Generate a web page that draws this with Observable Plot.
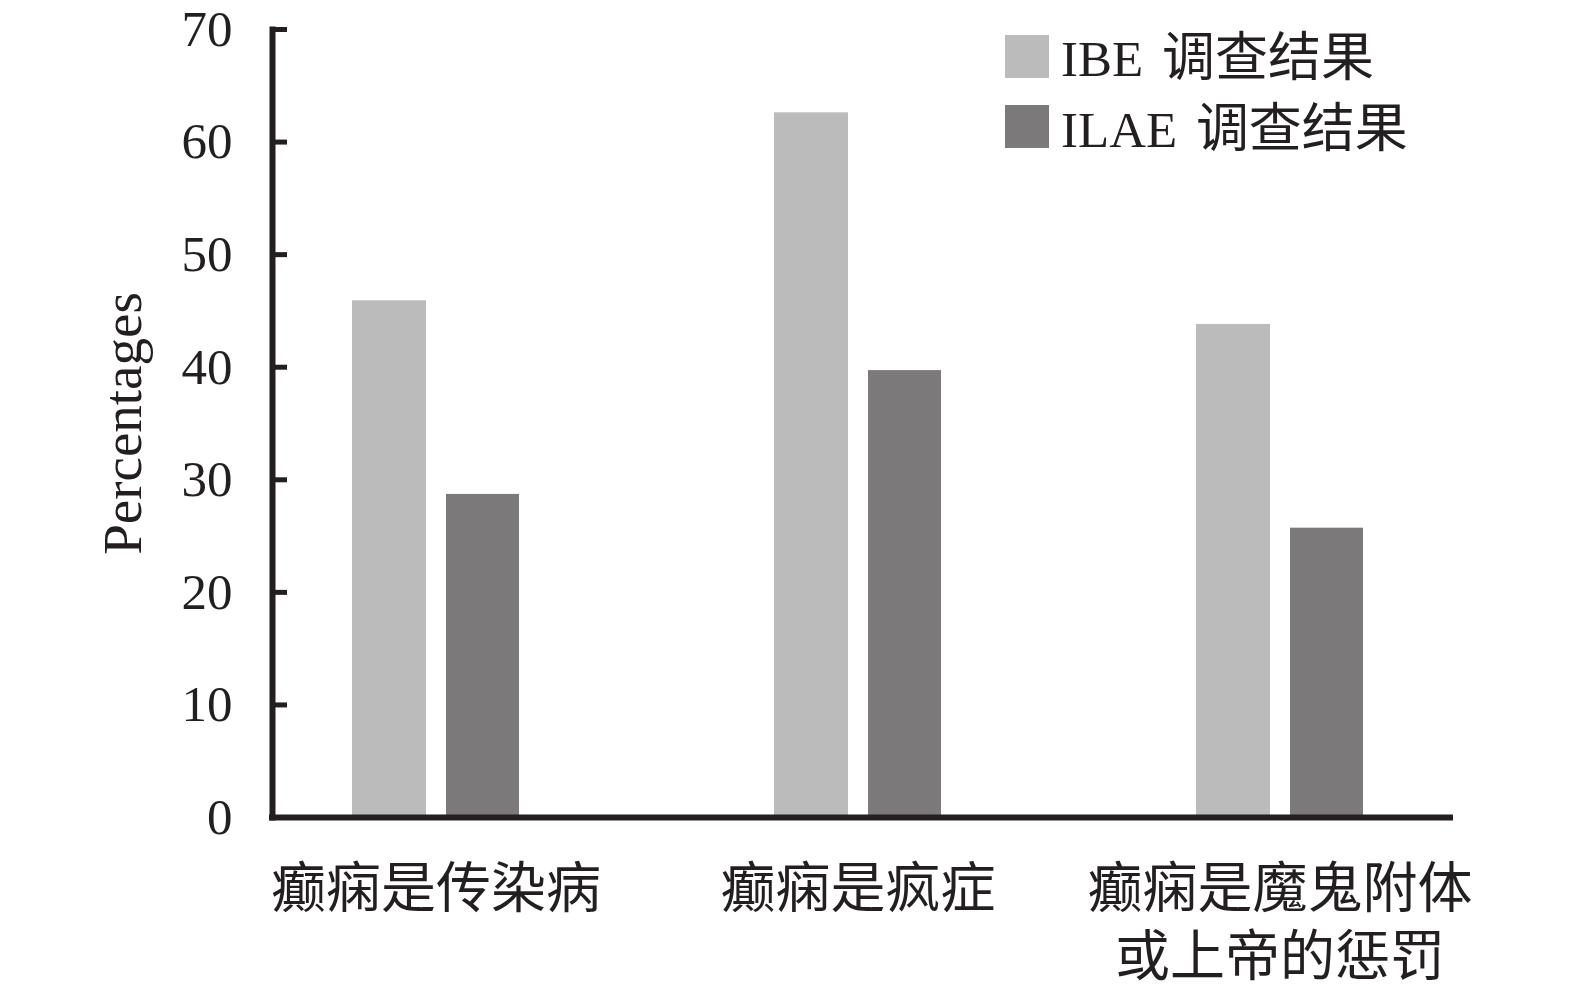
<!DOCTYPE html>
<html><head><meta charset="utf-8">
<script src="https://cdn.jsdelivr.net/npm/d3@7"></script>
<script src="https://cdn.jsdelivr.net/npm/@observablehq/plot@0.6"></script>
<style>
html,body{margin:0;padding:0;background:#fff;overflow:hidden;}
#wrap{position:relative;width:1575px;height:986px;}
#legend{position:absolute;left:1005px;top:21px;font-family:"Liberation Serif","Noto Sans CJK SC",serif;font-size:51px;color:#231f20;}
#legend .row{display:flex;align-items:center;height:70.5px;}
#legend .sw{width:44px;height:43px;margin-right:12px;flex:none;}
#legend .lb{white-space:nowrap;line-height:1;}
#legend .cjk{font-family:"Noto Sans CJK SC",sans-serif;font-size:53px;margin-left:6px;}
</style></head><body><div id="wrap"></div>
<script>
const categories = ["癫痫是传染病", "癫痫是疯症", "癫痫是魔鬼附体或上帝的惩罚"];
const categoryLabels = ["癫痫是传染病", "癫痫是疯症", "癫痫是魔鬼附体\n或上帝的惩罚"];
const seriesNames = ["IBE 调查结果", "ILAE 调查结果"];
const ibeValues = [45.9, 62.6, 43.8];
const ilaeValues = [28.7, 39.7, 25.7];
const seriesColors = ["#bbbbbb", "#7b797a"];
const yTicks = [0, 10, 20, 30, 40, 50, 60, 70];
const yLabel = "Percentages";
const axisColor = "#231f20";

const ibeRows = categories.map((c, i) => ({category: c, series: seriesNames[0], value: ibeValues[i]}));
const ilaeRows = categories.map((c, i) => ({category: c, series: seriesNames[1], value: ilaeValues[i]}));

const chart = Plot.plot({
  width: 1575,
  height: 986,
  marginLeft: 272,
  marginRight: 122,
  marginTop: 29,
  marginBottom: 169,
  style: {fontFamily: "'Liberation Serif', 'Noto Sans CJK SC', serif", color: axisColor, background: "transparent", overflow: "visible"},
  x: {type: "band", domain: categories, paddingInner: 0.6045, paddingOuter: 0.2, align: 0.472},
  y: {domain: [0, 70]},
  marks: [
    Plot.barY(ibeRows, {x: "category", y: "value", fill: seriesColors[0], insetRight: 93}),
    Plot.barY(ilaeRows, {x: "category", y: "value", fill: seriesColors[1], insetLeft: 94}),
    Plot.axisY(yTicks, {
      anchor: "left", tickSize: -15, tickPadding: 55, strokeWidth: 5, stroke: axisColor,
      fontSize: 51, label: null
    }),
    Plot.axisY([], {
      anchor: "left", tickSize: 0, fontSize: 55, label: yLabel, labelAnchor: "center", labelOffset: 171, labelArrow: "none"
    }),
    Plot.axisX({
      tickSize: 0, tickPadding: 41, fontSize: 55, fontFamily: "'Noto Sans CJK SC'", lineHeight: 1.24,
      tickFormat: d => categoryLabels[categories.indexOf(d)], label: null
    }),
    Plot.frame({anchor: "left", stroke: axisColor, strokeWidth: 6}),
    Plot.ruleY([0], {stroke: axisColor, strokeWidth: 6, insetLeft: -3})
  ]
});

const wrap = document.getElementById("wrap");
wrap.appendChild(chart);
const legend = document.createElement("div");
legend.id = "legend";
seriesNames.forEach((name, i) => {
  const row = document.createElement("div");
  row.className = "row";
  const sw = document.createElement("div");
  sw.className = "sw";
  sw.style.background = seriesColors[i];
  const lb = document.createElement("div");
  lb.className = "lb";
  const sp = name.indexOf(" ");
  const latin = document.createElement("span");
  latin.textContent = name.slice(0, sp + 1);
  const cjk = document.createElement("span");
  cjk.className = "cjk";
  cjk.textContent = name.slice(sp + 1);
  lb.appendChild(latin);
  lb.appendChild(cjk);
  row.appendChild(sw);
  row.appendChild(lb);
  legend.appendChild(row);
});
wrap.appendChild(legend);
</script>
</body></html>
